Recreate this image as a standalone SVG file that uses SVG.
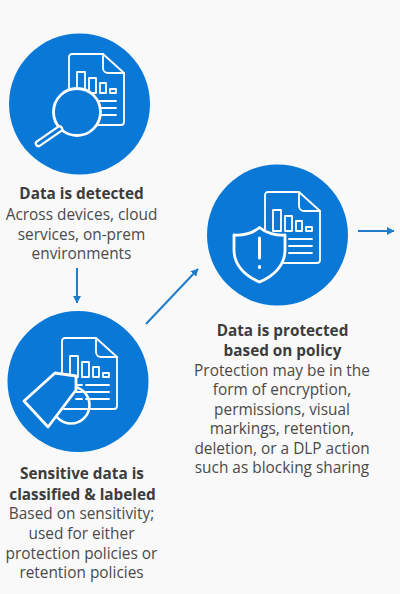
<svg xmlns="http://www.w3.org/2000/svg" width="400" height="594" viewBox="0 0 400 594">
<style>
.disc{fill:#0a78d6}
.ln{fill:none;stroke:#fff;stroke-width:1.8;stroke-linecap:round;stroke-linejoin:round}
.ic{fill:#0a78d6;stroke:#fff;stroke-width:2.800;stroke-linejoin:round;stroke-linecap:round}
text{font-family:"Open Sans","Noto Sans","Liberation Sans",sans-serif;font-size:15.400px;fill:#4a4a4a;text-anchor:middle}
.b{font-weight:700;fill:#3c3c3c;font-size:15.300px}
.cn{fill:none;stroke:#1f7cc9;stroke-width:2;marker-end:url(#ah)}
</style>
<defs>
<marker id="ah" markerUnits="userSpaceOnUse" markerWidth="10" markerHeight="10" refX="7" refY="4" orient="auto">
<path d="M0 0L7.500 4L0 8Z" fill="#1f7cc9"/>
</marker>
<g id="doc">
<path class="ln" d="M34 0H3a3 3 0 0 0-3 3V68a3 3 0 0 0 3 3H52a3 3 0 0 0 3-3V19Z"/>
<path class="ln" d="M34 0V14a5 5 0 0 0 5 5H55"/>
<rect class="ln" x="8" y="18" width="8" height="21"/>
<rect class="ln" x="20" y="24" width="7" height="15"/>
<rect class="ln" x="31" y="29" width="6" height="10"/>
<rect class="ln" x="41" y="35" width="6" height="4"/>
<path class="ln" d="M24 47H47M24 54H47M24 61H47"/>
</g>
</defs>
<rect width="400" height="594" fill="#f9f9f9"/>
<g id="connectors">
<path class="cn" d="M77 268V303"/>
<path class="cn" d="M146 324L198 269"/>
<path class="cn" d="M358 231H394"/>
</g>
<g id="node-detected">
<circle class="disc" cx="79.500" cy="104" r="70.500"/>
<use href="#doc" x="69" y="54"/>
<circle class="ic" cx="77" cy="112" r="23.500"/>
<path d="M59.500 129L38.500 143.500" fill="none" stroke="#fff" stroke-width="7.500" stroke-linecap="round"/>
<path d="M59.500 129L38.500 143.500" fill="none" stroke="#0a78d6" stroke-width="3" stroke-linecap="round"/>
<text class="b" x="81.500" y="198.500">Data is detected</text>
<text x="81.500" y="219.500">Across devices, cloud</text>
<text x="81.500" y="239.500">services, on-prem</text>
<text x="81.500" y="258.500">environments</text>
</g>
<g id="node-classified">
<circle class="disc" cx="78" cy="381.500" r="70.500"/>
<use href="#doc" x="62" y="338"/>
<circle class="ln" style="stroke-width:2.600" cx="71" cy="405" r="18.500"/>
<path class="ic" d="M24 401L55 373L76 376L76 390L48 427Z"/>
<path class="ln" d="M76 385H82M76 392H82M76 399H82"/>
<text class="b" x="82" y="478.500">Sensitive data is</text>
<text class="b" x="82.500" y="499.500">classified &amp; labeled</text>
<text x="81.500" y="518.500">Based on sensitivity;</text>
<text x="81.500" y="538.500">used for either</text>
<text x="81.500" y="558.500">protection policies or</text>
<text x="81.500" y="577.500">retention policies</text>
</g>
<g id="node-protected">
<circle class="disc" cx="277.500" cy="235" r="70.500"/>
<use href="#doc" x="265" y="192"/>
<path class="ic" d="M259.500 227.500C253 233 243 236 234 235V250C234 265 245 276 259.500 282C274 276 285 265 285 250V235C276 236 266 233 259.500 227.500Z"/>
<path d="M259.500 238V258M259.500 266.500V267.500" fill="none" stroke="#fff" stroke-width="3" stroke-linecap="round"/>
<text class="b" x="282.500" y="335.500">Data is protected</text>
<text class="b" x="282.500" y="355.500">based on policy</text>
<text x="282" y="375.500">Protection may be in the</text>
<text x="282" y="394.500">form of encryption,</text>
<text x="282" y="414.500">permissions, visual</text>
<text x="282" y="433.500">markings, retention,</text>
<text x="282" y="453.500">deletion, or a DLP action</text>
<text x="282" y="472.500">such as blocking sharing</text>
</g>
</svg>
